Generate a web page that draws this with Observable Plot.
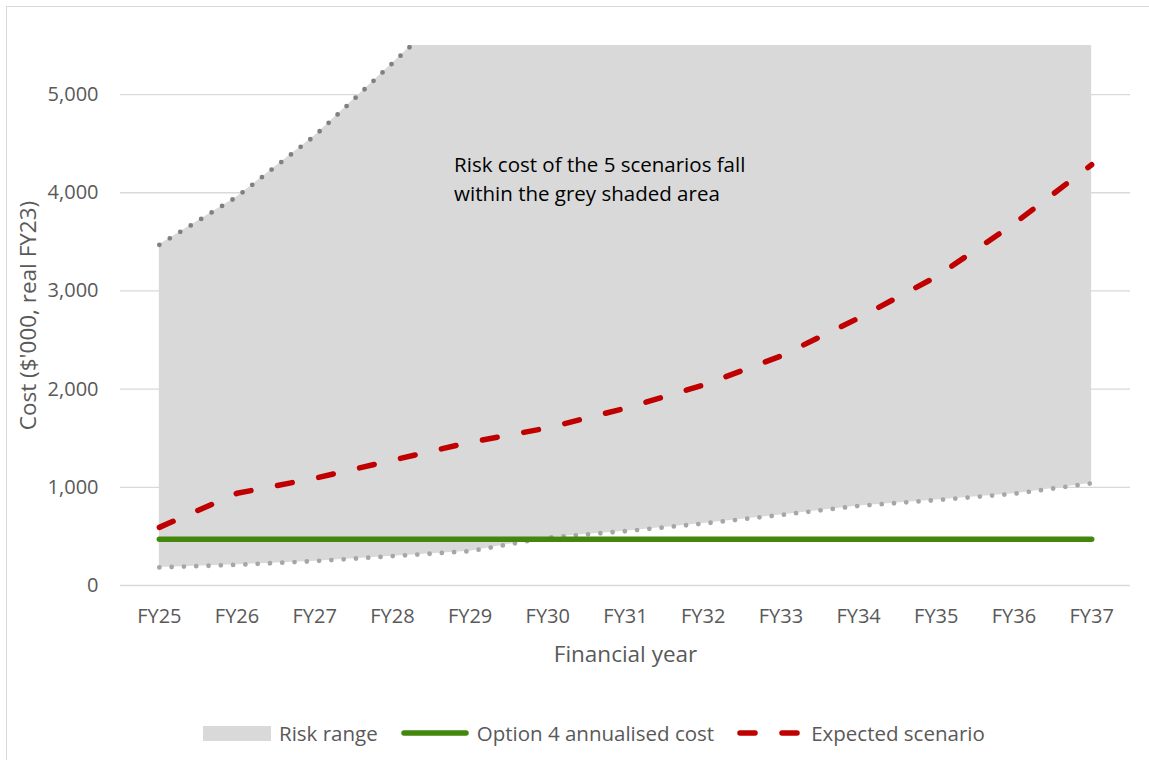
<!DOCTYPE html>
<html>
<head>
<meta charset="utf-8">
<script src="https://cdn.jsdelivr.net/npm/d3@7"></script>
<script src="https://cdn.jsdelivr.net/npm/@observablehq/plot@0.6"></script>
<style>
  html, body { margin: 0; padding: 0; background: #fff; }
  body { width: 1149px; height: 760px; position: relative; overflow: hidden; font-family: "Open Sans", sans-serif; }
  #frame { position: absolute; left: 6px; top: 6px; width: 1200px; height: 800px;
           border-left: 1.5px solid #d9d9d9; border-top: 1.5px solid #d9d9d9; box-sizing: border-box; }
  #chart { position: absolute; left: 0; top: 0; }
  #legend { position: absolute; left: 203px; top: 719px; display: flex; align-items: center;
            font-size: 20.5px; color: #595959; white-space: nowrap; }
  .item { display: flex; align-items: center; margin-right: 23px; }
  .item svg { margin-right: 8px; display: block; }
</style>
</head>
<body>
<div id="frame"></div>
<div id="chart"></div>
<div id="legend"></div>
<script>
// Financial years on the category axis
const years = ["FY25", "FY26", "FY27", "FY28", "FY29", "FY30", "FY31", "FY32", "FY33", "FY34", "FY35", "FY36", "FY37"];

// Upper and lower bounds of the five risk scenarios ($'000, real FY23)
const riskUpper = [3470, 3960, 4580, 5320, 6060, 6850, 7700, 8600, 9550, 10550, 11600, 12700, 13850];
const riskLower = [184, 211, 248, 299, 350, 488, 553, 631, 718, 811, 870, 934, 1041];

// Expected risk scenario
const expected = [592, 939, 1092, 1276, 1459, 1605, 1806, 2041, 2337, 2724, 3145, 3684, 4286];

// Option 4 annualised cost
const option4 = [470, 470, 470, 470, 470, 470, 470, 470, 470, 470, 470, 470, 470];

// Value axis
const yTicks = [0, 1000, 2000, 3000, 4000, 5000];
const yMax = 5500;

const yTitle = "Cost ($'000, real FY23)";
const xTitle = "Financial year";
const annotation = "Risk cost of the 5 scenarios fall\nwithin the grey shaded area";
const annotationYear = "FY29";
const annotationValue = 4158;

const rows = years.map((year, i) => ({
  year, upper: riskUpper[i], lower: riskLower[i], expected: expected[i], option4: option4[i]
}));

const greyFill = "#d9d9d9";
const textGrey = "#595959";

const chart = Plot.plot({
  width: 1149,
  height: 690,
  marginTop: 45,
  marginBottom: 105,
  marginLeft: 120,
  marginRight: 19,
  style: { fontFamily: "'Open Sans', sans-serif", background: "transparent", color: textGrey },
  x: { type: "point", domain: years, padding: 0.5, round: false },
  y: { domain: [0, yMax] },
  marks: [
    Plot.gridY(yTicks, { stroke: greyFill, strokeOpacity: 1, strokeWidth: 1.3 }),
    Plot.areaY(rows, { x: "year", y1: "lower", y2: "upper", fill: greyFill, curve: "linear", clip: true }),
    Plot.line(rows, { x: "year", y: "upper", stroke: "#808080", strokeWidth: 4.8,
      strokeDasharray: "0 12.3", strokeLinecap: "round", clip: true }),
    Plot.line(rows, { x: "year", y: "lower", stroke: "#a6a6a6", strokeWidth: 4.8,
      strokeDasharray: "0 12.3", strokeLinecap: "round", clip: true }),
    Plot.line(rows, { x: "year", y: "option4", stroke: "#43870c", strokeWidth: 5.5,
      strokeLinecap: "round", clip: true }),
    Plot.line(rows, { x: "year", y: "expected", stroke: "#c00000", strokeWidth: 5.5,
      strokeDasharray: "15 27", strokeLinecap: "round", clip: true }),
    Plot.text([annotation], { x: () => annotationYear, y: () => annotationValue, dx: -16,
      text: d => d, textAnchor: "start", lineAnchor: "middle", lineHeight: 1.42,
      fontSize: 20.5, fill: "#000" }),
    Plot.axisY(yTicks, { tickFormat: d3.format(","), tickSize: 0, tickPadding: 22, fontSize: 20,
      color: textGrey, label: null }),
    Plot.axisX({ tickSize: 0, tickPadding: 23, fontSize: 20, color: textGrey, label: null }),
    // Axis titles
    Plot.text([yTitle], { frameAnchor: "left", dx: -92, rotate: -90, text: d => d,
      textAnchor: "middle", fontSize: 22.5, fill: textGrey }),
    Plot.text([xTitle], { frameAnchor: "bottom", dy: 76, text: d => d,
      textAnchor: "middle", fontSize: 22.5, fill: textGrey })
  ]
});
document.getElementById("chart").appendChild(chart);

// Legend below the chart
const legendItems = [
  { label: "Risk range", swatch: `<rect x="0" y="0" width="68" height="15" fill="${greyFill}"/>`, w: 68, h: 15 },
  { label: "Option 4 annualised cost", swatch: `<line x1="3" x2="65" y1="4" y2="4" stroke="#43870c" stroke-width="5.5" stroke-linecap="round"/>`, w: 68, h: 8 },
  { label: "Expected scenario", swatch: `<line x1="3" x2="63" y1="4" y2="4" stroke="#c00000" stroke-width="5.5" stroke-linecap="round" stroke-dasharray="15 27"/>`, w: 66, h: 8 }
];
const legend = document.getElementById("legend");
for (const it of legendItems) {
  const div = document.createElement("div");
  div.className = "item";
  div.innerHTML = `<svg width="${it.w}" height="${it.h}">${it.swatch}</svg><span>${it.label}</span>`;
  legend.appendChild(div);
}
</script>
</body>
</html>
